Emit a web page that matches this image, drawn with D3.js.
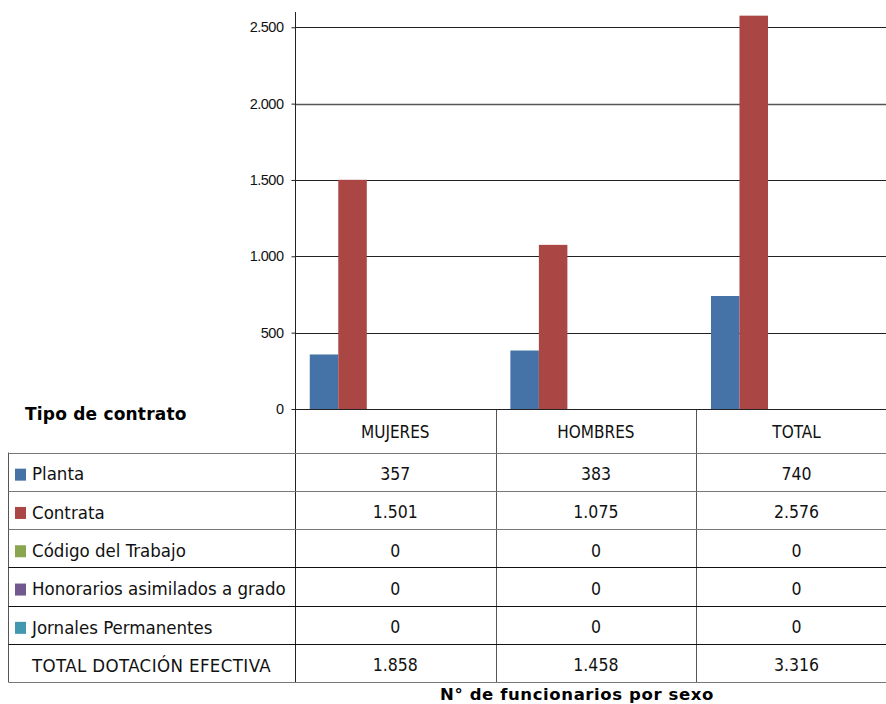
<!DOCTYPE html>
<html>
<head>
<meta charset="utf-8">
<script src="https://cdn.jsdelivr.net/npm/d3@7"></script>
<style>
  html, body { margin: 0; padding: 0; background: #fff; }
  svg { display: block; }
</style>
</head>
<body>
<svg id="chart" width="886" height="704"></svg>
<script>
// Dotación efectiva por tipo de contrato y sexo
const categories = ["MUJERES", "HOMBRES", "TOTAL"];
const seriesNames = ["Planta", "Contrata", "Código del Trabajo", "Honorarios asimilados a grado", "Jornales Permanentes", "TOTAL DOTACIÓN EFECTIVA"];
const planta = [357, 383, 740];
const contrata = [1501, 1075, 2576];
const codigoTrabajo = [0, 0, 0];
const honorarios = [0, 0, 0];
const jornales = [0, 0, 0];
const totalDotacion = [1858, 1458, 3316];
const yTicks = [0, 500, 1000, 1500, 2000, 2500];
const seriesColors = ["#4572A7", "#AA4643", "#89A54E", "#71588F", "#4198AF", null];

const seriesValues = [planta, contrata, codigoTrabajo, honorarios, jornales, totalDotacion];

const locale = d3.formatLocale({ decimal: ",", thousands: ".", grouping: [3], currency: ["$", ""] });
const fmt = locale.format(",d");

const svg = d3.select("#chart");
const tableFont = "'DejaVu Sans Condensed', 'DejaVu Sans', sans-serif";

// Plot geometry
const plotLeft = 295, plotTop = 12, plotBottom = 409;
const bandWidth = 200.6;
const plotRight = plotLeft + bandWidth * categories.length;

const x = d3.scaleBand().domain(categories).range([plotLeft, plotRight]).paddingInner(0).paddingOuter(0);
const xs = d3.scaleBand().domain(seriesNames).range([0, x.bandwidth()]).paddingInner(0).paddingOuter(0.518);
const y = d3.scaleLinear().domain([0, 2600]).range([plotBottom, plotTop]);

// Horizontal gridlines
svg.append("g")
  .selectAll("line")
  .data(yTicks.filter(d => d > 0))
  .join("line")
  .attr("x1", plotLeft).attr("x2", plotRight)
  .attr("y1", d => Math.round(y(d)) + 0.5).attr("y2", d => Math.round(y(d)) + 0.5)
  .attr("stroke", d => d === 2000 ? "#555" : "#222").attr("stroke-width", d => d === 2000 ? 1.5 : 1);

// Bars
const barData = [];
seriesValues.forEach((vals, si) => {
  if (!seriesColors[si]) return;
  vals.forEach((v, ci) => barData.push({ cat: categories[ci], series: seriesNames[si], value: v, color: seriesColors[si] }));
});
svg.append("g")
  .selectAll("rect")
  .data(barData)
  .join("rect")
  .attr("x", d => x(d.cat) + xs(d.series))
  .attr("width", xs.bandwidth())
  .attr("y", d => y(d.value))
  .attr("height", d => plotBottom - y(d.value))
  .attr("fill", d => d.color);

// Y axis
const yAxis = d3.axisLeft(y).tickValues(yTicks).tickSize(4).tickFormat(fmt);
const yAxisG = svg.append("g").attr("transform", `translate(${plotLeft + 0.5},0)`).call(yAxis);
yAxisG.select(".domain").remove();
yAxisG.selectAll(".tick line").attr("stroke", "#222");
yAxisG.selectAll(".tick text")
  .attr("font-family", "'Liberation Sans', Arial, sans-serif")
  .attr("font-size", 14.5)
  .attr("letter-spacing", -0.5)
  .attr("fill", "#111")
  .attr("x", -12);

// Table geometry
const tableLeft = 8.5, headerTop = plotBottom, bodyTop = 452.5, rowH = 38.3;
const tableBottom = bodyTop + rowH * seriesNames.length;

// Vertical axis line continuing through the table
svg.append("line")
  .attr("x1", plotLeft + 0.5).attr("x2", plotLeft + 0.5)
  .attr("y1", plotTop).attr("y2", tableBottom)
  .attr("stroke", "#222");

// Column separators
svg.append("g").selectAll("line")
  .data(categories.slice(1))
  .join("line")
  .attr("x1", d => Math.round(x(d)) + 0.5).attr("x2", d => Math.round(x(d)) + 0.5)
  .attr("y1", headerTop).attr("y2", tableBottom)
  .attr("stroke", "#555");

// Left border
svg.append("line")
  .attr("x1", tableLeft).attr("x2", tableLeft)
  .attr("y1", bodyTop).attr("y2", tableBottom)
  .attr("stroke", "#555");

// Horizontal row lines
const rowLineColors = ["#777", "#777", "#777", "#111", "#111", "#111", "#777"];
svg.append("g").selectAll("line")
  .data(d3.range(seriesNames.length + 1))
  .join("line")
  .attr("x1", tableLeft).attr("x2", plotRight)
  .attr("y1", i => Math.round(bodyTop + i * rowH) + 0.5)
  .attr("y2", i => Math.round(bodyTop + i * rowH) + 0.5)
  .attr("stroke", i => rowLineColors[i]);

// X axis baseline
svg.append("line")
  .attr("x1", plotLeft).attr("x2", plotRight)
  .attr("y1", plotBottom + 0.5).attr("y2", plotBottom + 0.5)
  .attr("stroke", "#222");

// Header: categories
svg.append("g").selectAll("text")
  .data(categories)
  .join("text")
  .attr("x", d => x(d) + x.bandwidth() / 2)
  .attr("y", (headerTop + bodyTop) / 2 + 1)
  .attr("dy", "0.36em")
  .attr("text-anchor", "middle")
  .attr("font-family", tableFont)
  .attr("font-size", 17)
  .attr("fill", "#111")
  .text(d => d);

// Row labels with legend keys
const rows = svg.append("g").selectAll("g")
  .data(seriesNames)
  .join("g")
  .attr("transform", (d, i) => `translate(0,${bodyTop + i * rowH + rowH / 2 + 2})`);
rows.filter((d, i) => !!seriesColors[i])
  .append("rect")
  .attr("x", 15).attr("y", -5).attr("width", 11).attr("height", 12)
  .attr("fill", (d) => seriesColors[seriesNames.indexOf(d)]);
rows.append("text")
  .attr("x", 32)
  .attr("dy", "0.36em")
  .attr("font-family", tableFont)
  .attr("font-size", 18.5)
  .attr("letter-spacing", (d, i) => i === seriesNames.length - 1 ? 0.4 : 0)
  .attr("fill", "#111")
  .text(d => d);

// Cell values
rows.each(function (name, si) {
  d3.select(this).selectAll("text.val")
    .data(seriesValues[si])
    .join("text")
    .attr("class", "val")
    .attr("x", (v, ci) => x(categories[ci]) + x.bandwidth() / 2)
    .attr("dy", "0.36em")
    .attr("text-anchor", "middle")
    .attr("font-family", tableFont)
    .attr("font-size", 17.5)
    .attr("fill", "#111")
    .text(v => fmt(v));
});

// Titles
svg.append("text")
  .attr("x", 25).attr("y", 420)
  .attr("font-family", "'DejaVu Sans', sans-serif")
  .attr("font-weight", "bold")
  .attr("font-size", 17)
  .attr("letter-spacing", 0.2)
  .attr("fill", "#000")
  .text("Tipo de contrato");

svg.append("text")
  .attr("x", 577).attr("y", 700)
  .attr("text-anchor", "middle")
  .attr("font-family", "'DejaVu Sans', sans-serif")
  .attr("font-weight", "bold")
  .attr("font-size", 16.5)
  .attr("letter-spacing", 0.6)
  .attr("fill", "#000")
  .text("N° de funcionarios por sexo");
</script>
</body>
</html>
